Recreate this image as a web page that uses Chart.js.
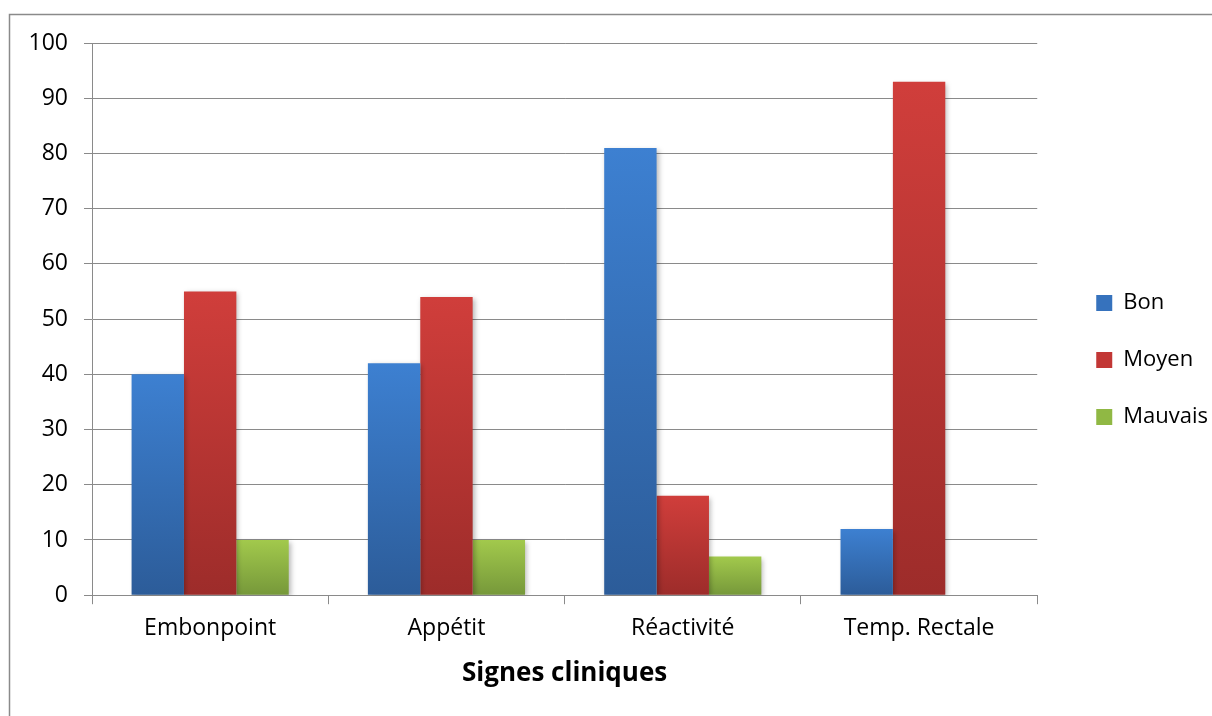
<!DOCTYPE html>
<html>
<head>
<meta charset="utf-8">
<script src="https://cdn.jsdelivr.net/npm/chart.js@4.4.1/dist/chart.umd.min.js"></script>
<style>
  html, body { margin: 0; padding: 0; background: #ffffff; }
  #wrap { width: 1212px; height: 716px; position: relative; }
</style>
</head>
<body>
<div id="wrap"><canvas id="c" width="1212" height="716"></canvas></div>
<script>
const categories = ["Embonpoint", "Appétit", "Réactivité", "Temp. Rectale"];
const seriesNames = ["Bon", "Moyen", "Mauvais"];
const bonValues = [40, 42, 81, 12];
const moyenValues = [55, 54, 18, 93];
const mauvaisValues = [10, 10, 7, 0];
const yTicks = [0, 10, 20, 30, 40, 50, 60, 70, 80, 90, 100];
const xTitle = "Signes cliniques";

const palette = [
  { top: "#3d80d1", bottom: "#2c5c99", legend: "#3672bd" },
  { top: "#d03e3b", bottom: "#9d2c2a", legend: "#c23735" },
  { top: "#a2c94c", bottom: "#76983a", legend: "#90b844" }
];

function gradFill(idx) {
  return function (ctx) {
    const chart = ctx.chart;
    const y = chart.scales && chart.scales.y;
    if (!y || ctx.type !== 'data') return palette[idx].legend;
    const top = y.getPixelForValue(ctx.raw);
    const base = y.getPixelForValue(0);
    if (!isFinite(top) || Math.abs(base - top) < 1) return palette[idx].legend;
    const g = chart.ctx.createLinearGradient(0, top, 0, base);
    g.addColorStop(0, palette[idx].top);
    g.addColorStop(1, palette[idx].bottom);
    return g;
  };
}

const frame = {
  id: 'frame',
  beforeDraw(chart) {
    const c = chart.ctx;
    c.save();
    c.fillStyle = '#ffffff';
    c.fillRect(0, 0, chart.width, chart.height);
    c.strokeStyle = '#8a8a8a';
    c.lineWidth = 1.5;
    c.strokeRect(9.5, 14.5, chart.width + 40, chart.height + 40);
    c.restore();
  }
};

const legendShift = {
  id: 'legendShift',
  afterLayout(chart) {
    const lg = chart.legend;
    if (!lg) return;
    const pad = lg.options.labels.padding;
    const dx = (chart.chartArea.right + 59) - (lg.left + pad);
    const dy = -6;
    lg.left += dx; lg.right += dx;
    lg.top += dy; lg.bottom += dy;
  }
};

const shadow = {
  id: 'shadow',
  beforeDatasetsDraw(chart) {
    const c = chart.ctx;
    c.save();
    c.shadowColor = 'rgba(0,0,0,0.28)';
    c.shadowBlur = 5;
    c.shadowOffsetX = 2;
    c.shadowOffsetY = 2;
  },
  afterDatasetsDraw(chart) {
    chart.ctx.restore();
  }
};

const values = [bonValues, moyenValues, mauvaisValues];

new Chart(document.getElementById('c'), {
  type: 'bar',
  data: {
    labels: categories,
    datasets: seriesNames.map((name, i) => ({
      label: name,
      data: values[i],
      backgroundColor: gradFill(i),
      borderWidth: 0,
      categoryPercentage: 0.665,
      barPercentage: 1.0
    }))
  },
  options: {
    responsive: false,
    animation: false,
    devicePixelRatio: 1,
    layout: { padding: { top: 43, left: 20, right: 18, bottom: 27 } },
    plugins: {
      tooltip: { enabled: false },
      legend: {
        position: 'right',
        align: 'center',
        labels: {
          color: '#000000',
          font: { family: 'Open Sans', size: 22 },
          boxWidth: 16,
          boxHeight: 16,
          padding: 35,
          generateLabels(chart) {
            return seriesNames.map((n, i) => ({
              text: n,
              fillStyle: palette[i].legend,
              strokeStyle: palette[i].legend,
              lineWidth: 0,
              hidden: false,
              datasetIndex: i,
              fontColor: '#000000'
            }));
          }
        }
      }
    },
    scales: {
      x: {
        grid: {
          display: true,
          offset: true,
          drawOnChartArea: false,
          drawTicks: true,
          tickLength: 9,
          color: '#8a8a8a',
          lineWidth: 1
        },
        border: { display: true, color: '#8a8a8a', width: 1 },
        ticks: {
          color: '#000000',
          font: { family: 'Open Sans', size: 23 },
          padding: 10,
          maxRotation: 0
        },
        title: {
          display: true,
          text: xTitle,
          color: '#000000',
          font: { family: 'Open Sans', size: 26, weight: 'bold' },
          padding: { top: 6, bottom: 0 }
        }
      },
      y: {
        min: 0,
        max: 100,
        afterBuildTicks(scale) { scale.ticks = yTicks.map(v => ({ value: v })); },
        afterFit(scale) { scale.width = 72; },
        grid: {
          color: '#8a8a8a',
          lineWidth: 1,
          drawTicks: true,
          tickLength: 8
        },
        border: { display: true, color: '#8a8a8a', width: 1 },
        ticks: {
          color: '#000000',
          font: { family: 'Open Sans', size: 23 },
          padding: 16
        }
      }
    }
  },
  plugins: [frame, legendShift, shadow]
});
</script>
</body>
</html>
